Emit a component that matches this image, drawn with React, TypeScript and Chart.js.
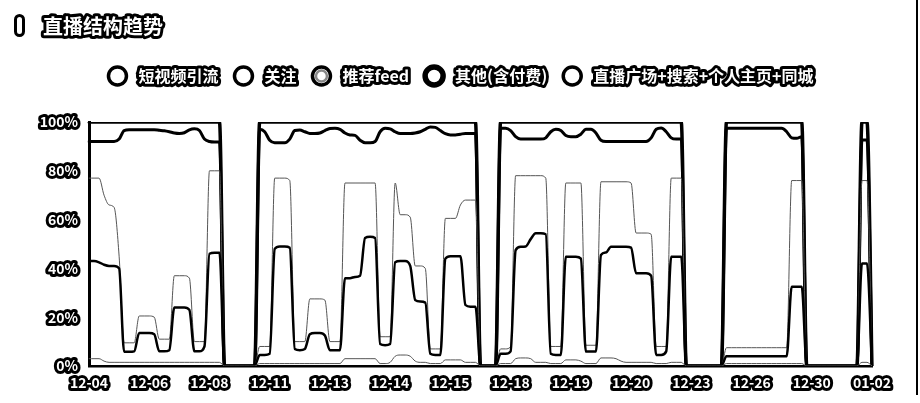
import React, { useEffect, useRef } from 'react';
import { Chart, registerables } from 'chart.js';

Chart.register(...registerables);

const FONT = '"Noto Sans CJK SC", "Noto Sans", sans-serif';

const titleText = '直播结构趋势';
const seriesNames = ['短视频引流', '关注', '推荐feed', '其他(含付费)', '直播广场+搜索+个人主页+同城'];
const tickDates = ['12-04', '12-06', '12-08', '12-11', '12-13', '12-14', '12-15', '12-18', '12-19', '12-20', '12-23', '12-26', '12-30', '01-02'];
const pointsPerTick = 12;

// Cumulative share (%) at the top of each stacked band, one value per sample.
const cumShort = [
  3, 3, 3, 2, 1.5, 1.5, 1.5, 1.5, 1.5, 1.5, 1.5, 1.5, 1.5, 1.5, 1.5, 1.5, 1.5, 1.5, 1.5, 1.5, 1.5, 1.5, 1.5, 1.5, 1.5, 1.5, 1.5,
  0, 0, 0, 0, 0, 0, 0,
  1, 1, 1, 1, 1, 1, 1, 1, 1, 1, 1, 1, 1, 1, 1, 1, 1, 3, 3, 3, 3, 3, 3, 3, 1, 1, 1.5, 4, 4.5, 4.5, 4, 2, 1.5, 1.5, 1, 1, 1, 2.5, 2.5, 2.5, 2.5, 1.5, 1.5, 1.5,
  0, 0, 0, 0,
  1, 1, 1, 3, 3.3, 3.3, 3, 1.5, 1.5, 1.5, 1, 1, 1, 2.5, 2.5, 2.5, 2, 1, 1, 1, 3.3, 3.3, 3.3, 3, 2, 1.5, 1.5, 1.5, 1.5, 1.5, 1.5, 1, 1, 1, 1.5, 1.5, 1.5,
  0, 0, 0, 0, 0, 0, 0, 0,
  1, 1, 1, 1, 1, 1, 1, 1, 1, 1, 1, 1, 1, 1, 1, 1,
  0, 0, 0, 0, 0, 0, 0, 0, 0, 0, 0,
  1.5, 1.5,
  0,
];
const cumFollow = [
  43, 43, 42.5, 41.5, 41, 41, 40, 5.8, 5.8, 6, 13.5, 13.5, 13.5, 13, 6, 6, 6.5, 24, 24, 24, 23, 6, 6, 8, 46, 46.4, 46.4,
  0, 0, 0, 0, 0, 0, 0,
  4.5, 4.5, 5, 48, 49, 49, 48.5, 7, 6.5, 7, 13, 13.5, 13.5, 12.5, 6.5, 6.5, 6.5, 36, 36, 36.5, 37, 52.5, 53, 52.5, 9, 8.5, 9, 42.5, 43, 43, 41, 27, 26.4, 26, 5, 4.5, 4.5, 44, 45, 45, 45, 25, 24.3, 24.3,
  0, 0, 0, 0,
  5, 5, 6, 47.5, 48.9, 49, 52, 54.4, 54.4, 54, 5, 4.5, 4.5, 44.8, 44.8, 44.8, 44, 5.9, 5.9, 5.9, 45.5, 46.5, 48.9, 48.9, 48.9, 48.9, 48.5, 38, 38, 38, 37, 4.5, 4.5, 6, 44.8, 44.8, 44.8,
  0, 0, 0, 0, 0, 0, 0, 0,
  4, 4, 4, 4, 4, 4, 4, 4, 4, 4, 4, 4, 4, 32.5, 32.5, 32.5,
  0, 0, 0, 0, 0, 0, 0, 0, 0, 0, 0,
  42, 42,
  0,
];
const cumFeed = [
  77, 77, 77, 70, 66, 65, 45, 9.5, 9.5, 9.5, 20.5, 20.5, 20.5, 20, 11, 11, 11, 37, 37, 37, 36, 10, 10, 10, 80, 80, 80,
  0, 0, 0, 0, 0, 0, 0,
  8, 8, 8, 77, 77, 77, 76, 10, 10, 10, 27.5, 27.5, 27.5, 27, 10, 10, 10, 75, 75, 75, 75, 75, 75, 75, 12, 12, 12, 75, 62, 62, 61, 41, 41, 40, 7, 7, 7, 60.5, 60.5, 60.5, 66, 68, 68, 68,
  0, 0, 0, 0,
  7, 7, 8, 78, 78, 78, 78, 78, 78, 77, 8, 8, 8, 75, 75, 75, 75, 8.5, 8.5, 8.5, 75.5, 75.5, 75.5, 75.5, 75.5, 75.5, 75, 54.5, 54.5, 54.5, 54, 8, 8, 8, 77, 77, 77,
  0, 0, 0, 0, 0, 0, 0, 0,
  7.5, 7.5, 7.5, 7.5, 7.5, 7.5, 7.5, 7.5, 7.5, 7.5, 7.5, 7.5, 7.5, 76, 76, 76,
  0, 0, 0, 0, 0, 0, 0, 0, 0, 0, 0,
  76, 76,
  0,
];
const cumOther = [
  92, 92, 92, 92, 92, 92, 93, 96.5, 96.8, 96.8, 96.8, 96.8, 96.8, 96.8, 96.6, 96.4, 96, 95.5, 95.3, 95.6, 96.8, 97.2, 96.5, 93, 92, 91.8, 91.8,
  0, 0, 0, 0, 0, 0, 0,
  97, 96, 92.5, 91.5, 91.5, 91.5, 93, 96.5, 96.7, 96, 95.3, 95.3, 95.5, 96.5, 97.3, 97.4, 97, 95.5, 94.7, 94.5, 92.5, 91.5, 91.5, 92, 96, 97.4, 97.2, 96, 95.3, 95.3, 95.3, 95.5, 96, 97, 98, 97.8, 96.5, 95.2, 94.7, 94.7, 95, 95.3, 95.3, 95.3,
  0, 0, 0, 0,
  97.4, 97.4, 96.5, 94, 93, 93, 93, 93, 93, 93.5, 96, 97, 96.5, 94.5, 94, 94, 95, 97, 97, 95.5, 92.5, 92, 92, 92, 92, 92, 92, 92, 92, 92, 93.5, 97, 97.5, 96, 93.5, 93, 93,
  0, 0, 0, 0, 0, 0, 0, 0,
  97.4, 97.4, 97.4, 97.4, 97.4, 97.4, 97.4, 97.4, 97.4, 97.4, 97.4, 97.4, 96, 93.5, 93.3, 94,
  0, 0, 0, 0, 0, 0, 0, 0, 0, 0, 0,
  92.6, 92.6,
  0,
];
const cumAll = [
  100, 100, 100, 100, 100, 100, 100, 100, 100, 100, 100, 100, 100, 100, 100, 100, 100, 100, 100, 100, 100, 100, 100, 100, 100, 100, 100,
  0, 0, 0, 0, 0, 0, 0,
  100, 100, 100, 100, 100, 100, 100, 100, 100, 100, 100, 100, 100, 100, 100, 100, 100, 100, 100, 100, 100, 100, 100, 100, 100, 100, 100, 100, 100, 100, 100, 100, 100, 100, 100, 100, 100, 100, 100, 100, 100, 100, 100, 100,
  0, 0, 0, 0,
  100, 100, 100, 100, 100, 100, 100, 100, 100, 100, 100, 100, 100, 100, 100, 100, 100, 100, 100, 100, 100, 100, 100, 100, 100, 100, 100, 100, 100, 100, 100, 100, 100, 100, 100, 100, 100,
  0, 0, 0, 0, 0, 0, 0, 0,
  100, 100, 100, 100, 100, 100, 100, 100, 100, 100, 100, 100, 100, 100, 100, 100,
  0, 0, 0, 0, 0, 0, 0, 0, 0, 0, 0,
  100, 100,
  0,
];

const yTicks = [0, 20, 40, 60, 80, 100];

const levels = [cumShort, cumFollow, cumFeed, cumOther, cumAll];
const lineWidths = [1, 2.5, 1, 3, 3.5];
const lineColors = ['#555', '#000', '#555', '#000', '#000'];
// legend marker styles: ring width, inner grey ring
const markerRing = [3.5, 3.5, 3.5, 5.5, 3.5];
const markerGrey = [false, false, true, false, false];

function outlined(ctx: CanvasRenderingContext2D, text: string, x: number, y: number, font: string, lw: number) {
  ctx.save();
  ctx.font = font;
  ctx.textBaseline = 'middle';
  ctx.lineJoin = 'round';
  ctx.lineWidth = lw;
  ctx.strokeStyle = '#000';
  ctx.strokeText(text, x, y);
  ctx.fillStyle = '#fff';
  ctx.fillText(text, x, y);
  ctx.restore();
}

const decorPlugin = {
  id: 'decor',
  beforeDraw(chart: any) {
    const ctx = chart.ctx as CanvasRenderingContext2D;
    ctx.lineJoin = 'round';
    ctx.miterLimit = 2;
  },
  afterDraw(chart: any) {
    const ctx = chart.ctx as CanvasRenderingContext2D;
    const W = chart.width;
    // title icon
    ctx.save();
    ctx.lineWidth = 3;
    ctx.strokeStyle = '#000';
    ctx.fillStyle = '#fff';
    ctx.beginPath();
    (ctx as any).roundRect(15.5, 15.5, 8, 20, 4);
    ctx.fill();
    ctx.stroke();
    ctx.restore();
    // title
    outlined(ctx, titleText, 43, 26, `bold 20px ${FONT}`, 6);

    // legend
    const lf = `bold 16px ${FONT}`;
    ctx.save();
    ctx.font = lf;
    const box = 22, tgap = 10, igap = 14;
    const widths = seriesNames.map((n) => ctx.measureText(n).width);
    const total = widths.reduce((a, w) => a + box + tgap + w, 0) + igap * (seriesNames.length - 1);
    let x = W / 2 - total / 2;
    const ly = 76;
    ctx.restore();
    seriesNames.forEach((n, i) => {
      const cx = x + box / 2;
      ctx.save();
      ctx.beginPath();
      ctx.arc(cx, ly, 9, 0, Math.PI * 2);
      ctx.fillStyle = '#fff';
      ctx.fill();
      ctx.lineWidth = markerRing[i];
      ctx.strokeStyle = '#000';
      ctx.stroke();
      if (markerGrey[i]) {
        ctx.beginPath();
        ctx.arc(cx, ly, 5.5, 0, Math.PI * 2);
        ctx.lineWidth = 2.5;
        ctx.strokeStyle = '#888';
        ctx.stroke();
      }
      ctx.restore();
      outlined(ctx, n, x + box + tgap, ly, lf, 6);
      x += box + tgap + widths[i] + igap;
    });

    // right frame line
    ctx.save();
    ctx.strokeStyle = '#000';
    ctx.lineWidth = 2;
    ctx.beginPath();
    ctx.moveTo(917, 0);
    ctx.lineTo(917, 395);
    ctx.stroke();
    ctx.restore();
  },
};

export default function App() {
  const ref = useRef<HTMLCanvasElement | null>(null);
  useEffect(() => {
    if (!ref.current) return;
    const labels = cumAll.map((_, i) => (i % pointsPerTick === 0 ? tickDates[i / pointsPerTick] : ''));
    const tickFont = { family: FONT, size: 14, weight: 'bold' as const };
    const chart = new Chart(ref.current, {
      type: 'line',
      data: {
        labels,
        datasets: levels.map((d, i) => ({
          label: seriesNames[i],
          data: d,
          borderColor: lineColors[i],
          borderWidth: lineWidths[i],
          pointRadius: 0,
          fill: false,
          cubicInterpolationMode: 'monotone' as const,
          borderJoinStyle: 'round' as const,
          borderCapStyle: 'round' as const,
        })),
      },
      options: {
        animation: false,
        responsive: false,
        events: [],
        layout: { padding: { left: 0, right: 48, top: 122, bottom: 0 } },
        plugins: {
          legend: { display: false },
          title: { display: false },
          tooltip: { enabled: false },
        },
        scales: {
          x: {
            type: 'category',
            grid: { display: false, drawTicks: false },
            border: { display: true, color: '#000', width: 2.5 },
            ticks: {
              autoSkip: false,
              maxRotation: 0,
              minRotation: 0,
              padding: 8,
              color: '#fff',
              textStrokeColor: '#000',
              textStrokeWidth: 6,
              font: tickFont,
            },
            afterFit: (s: any) => {
              s.height = 37;
            },
          },
          y: {
            min: 0,
            max: 100,
            afterBuildTicks: (s: any) => {
              s.ticks = yTicks.map((v) => ({ value: v }));
            },
            grid: { display: false, drawTicks: false },
            border: { display: true, color: '#000', width: 3 },
            ticks: {
              padding: 11,
              color: '#fff',
              textStrokeColor: '#000',
              textStrokeWidth: 6,
              font: tickFont,
              callback: (v: any) => `${v}%`,
            },
            afterFit: (s: any) => {
              s.width = 89;
            },
          },
        },
      },
      plugins: [decorPlugin],
    });
    return () => chart.destroy();
  }, []);
  return (
    <div style={{ position: 'fixed', left: 0, top: 0, width: 920, height: 403, background: '#fff' }}>
      <canvas ref={ref} width={920} height={403} style={{ display: 'block', width: 920, height: 403 }} />
    </div>
  );
}
